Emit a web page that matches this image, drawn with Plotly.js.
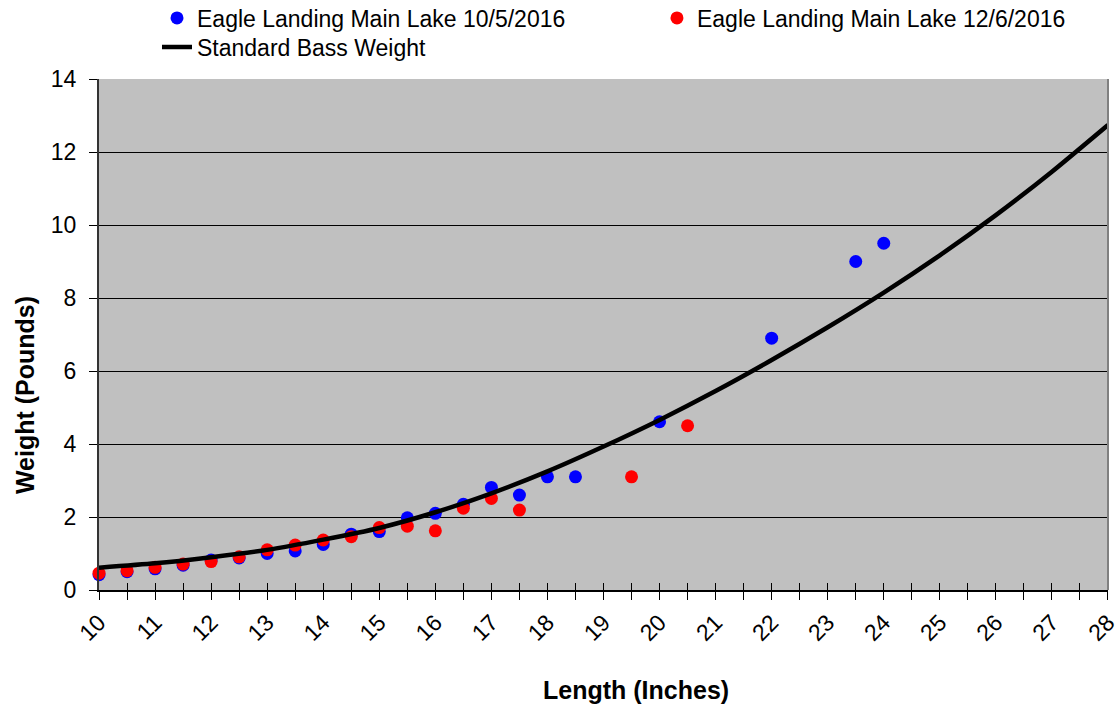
<!DOCTYPE html>
<html>
<head>
<meta charset="utf-8">
<script src="https://cdn.plot.ly/plotly-3.0.1.min.js"></script>
<style>
  html, body { margin: 0; padding: 0; background: #ffffff; }
  #chart { width: 1119px; height: 709px; }
</style>
</head>
<body>
<div id="chart"></div>
<script>
// ---- Data ----
const oct2016Length = [10, 10.5, 11, 11.5, 12, 12.5, 13, 13.5, 14, 14.5, 15, 15.5, 16, 16.5, 17, 17.5, 18, 18.5, 20, 22, 23.5, 24];
const oct2016Weight = [0.42, 0.50, 0.58, 0.68, 0.82, 0.88, 1.00, 1.07, 1.25, 1.53, 1.60, 1.98, 2.10, 2.35, 2.81, 2.60, 3.10, 3.10, 4.61, 6.90, 9.00, 9.50];

const dec2016Length = [10, 10.5, 11, 11.5, 12, 12.5, 13, 13.5, 14, 14.5, 15, 15.5, 16, 16.5, 17, 17.5, 19.5, 20.5];
const dec2016Weight = [0.46, 0.53, 0.62, 0.71, 0.78, 0.91, 1.10, 1.23, 1.37, 1.46, 1.71, 1.75, 1.62, 2.24, 2.51, 2.19, 3.10, 4.50];

const standardLength = [10, 11, 12, 13, 14, 15, 16, 17, 18, 19, 20, 21, 22, 23, 24, 25, 26, 27, 28];
const standardWeight = [0.61, 0.73, 0.90, 1.10, 1.38, 1.70, 2.13, 2.65, 3.25, 3.93, 4.66, 5.45, 6.30, 7.20, 8.15, 9.17, 10.27, 11.46, 12.74];

const seriesNames = ["Eagle Landing Main Lake 10/5/2016", "Eagle Landing Main Lake 12/6/2016", "Standard Bass Weight"];
const xTickValues = [10, 11, 12, 13, 14, 15, 16, 17, 18, 19, 20, 21, 22, 23, 24, 25, 26, 27, 28];
const yTickValues = [0, 2, 4, 6, 8, 10, 12, 14];
const xTitle = "Length (Inches)";
const yTitle = "Weight (Pounds)";

const FONT = "Liberation Sans, Arial, sans-serif";
const XRANGE = [9.9995, 28.0005];

const traces = [
  {
    x: oct2016Length, y: oct2016Weight, name: seriesNames[0], legend: "legend",
    type: "scatter", mode: "markers", cliponaxis: false,
    marker: { color: "#0000FF", size: 13 }
  },
  {
    x: dec2016Length, y: dec2016Weight, name: seriesNames[1], legend: "legend2",
    type: "scatter", mode: "markers", cliponaxis: false,
    marker: { color: "#FF0000", size: 13 }
  },
  {
    x: standardLength, y: standardWeight, name: seriesNames[2], legend: "legend3",
    type: "scatter", mode: "lines",
    line: { color: "#000000", width: 4.5, shape: "spline", smoothing: 0.6 }
  },
  // invisible trace on overlay axis that carries the inside tick marks
  {
    x: [12, 14], y: [7, 7], xaxis: "x2", yaxis: "y",
    type: "scatter", mode: "markers", showlegend: false, hoverinfo: "skip",
    marker: { opacity: 0 }
  }
];

const legendBase = {
  orientation: "h", xanchor: "left", yanchor: "middle",
  xref: "container", yref: "container",
  bgcolor: "rgba(0,0,0,0)", borderwidth: 0,
  font: { family: FONT, size: 23, color: "#000000" }
};

const layout = {
  width: 1119, height: 709,
  margin: { l: 99, r: 11, t: 79, b: 119, pad: 0, autoexpand: false },
  paper_bgcolor: "#FFFFFF",
  plot_bgcolor: "#C0C0C0",
  font: { family: FONT, size: 22, color: "#000000" },
  showlegend: true,
  legend:  Object.assign({}, legendBase, { x: 0.1403, y: 0.9746 }),
  legend2: Object.assign({}, legendBase, { x: 0.5871, y: 0.9746 }),
  legend3: Object.assign({}, legendBase, { x: 0.1403, y: 0.9337 }),
  xaxis: {
    range: XRANGE,
    tickmode: "array", tickvals: xTickValues,
    ticktext: xTickValues.map(String),
    tickangle: -45, ticklabeloverflow: "allow",
    ticks: "outside", ticklen: 8, tickwidth: 1, tickcolor: "#000000",
    minor: { dtick: 0.5, tick0: 10, ticks: "outside", ticklen: 8, tickwidth: 1, tickcolor: "#000000", showgrid: false },
    showgrid: false, zeroline: false,
    showline: true, linecolor: "#000000", linewidth: 2,
    tickfont: { family: FONT, size: 23, color: "#000000" },
    fixedrange: true
  },
  xaxis2: {
    overlaying: "x", range: XRANGE, anchor: "y", side: "bottom",
    tickmode: "linear", dtick: 0.5, tick0: 10,
    ticks: "inside", ticklen: 7, tickwidth: 1, tickcolor: "#000000",
    showticklabels: false, showgrid: false, zeroline: false, showline: false,
    fixedrange: true
  },
  yaxis: {
    range: [0, 14],
    tickmode: "array", tickvals: yTickValues,
    ticks: "outside", ticklen: 8, tickwidth: 1, tickcolor: "#000000",
    ticklabelstandoff: 8,
    showgrid: true, gridcolor: "#000000", gridwidth: 1,
    zeroline: false,
    showline: true, linecolor: "#333333", linewidth: 2,
    tickfont: { family: FONT, size: 23, color: "#000000" },
    fixedrange: true
  },
  shapes: [
    { type: "line", xref: "paper", yref: "paper", x0: 1, x1: 1, y0: 0, y1: 1,
      line: { color: "#808080", width: 2 } }
  ],
  annotations: [
    { text: "<b>" + xTitle + "</b>", xref: "paper", yref: "paper",
      x: 0.5327, y: -0.1957, xanchor: "center", yanchor: "middle",
      showarrow: false, font: { family: FONT, size: 25, color: "#000000" } },
    { text: "<b>" + yTitle + "</b>", xref: "paper", yref: "paper",
      x: -0.0733, y: 0.3816, xanchor: "center", yanchor: "middle", textangle: -90,
      showarrow: false, font: { family: FONT, size: 25, color: "#000000" } }
  ]
};

Plotly.newPlot("chart", traces, layout, { displayModeBar: false, staticPlot: true });
</script>
</body>
</html>
